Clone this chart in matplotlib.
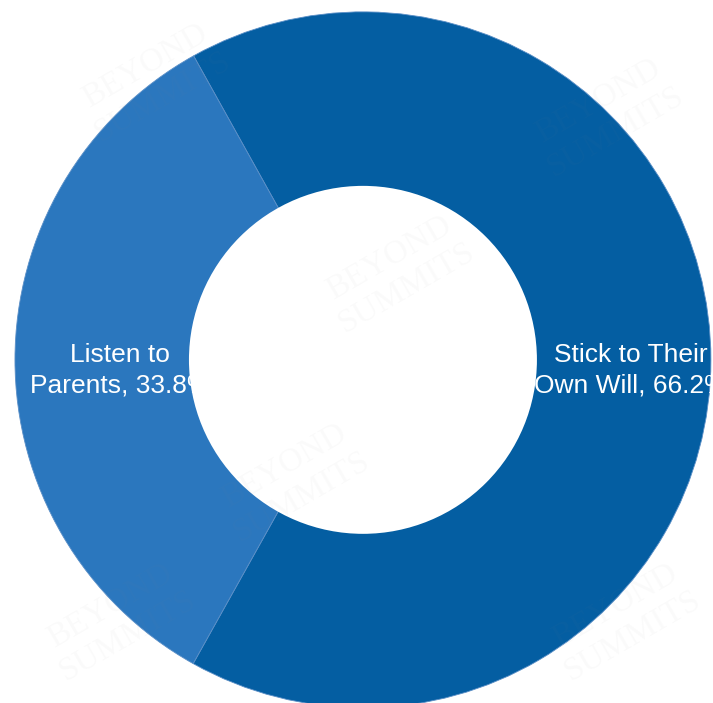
import matplotlib
matplotlib.use("Agg")
import matplotlib.pyplot as plt
from matplotlib.patches import Circle

# data
labels = ["Stick to Their\nOwn Will, 66.2%", "Listen to\nParents, 33.8%"]
values = [66.2, 33.8]
colors = ["#045EA2", "#2B77BE"]

plt.rcParams['font.family'] = ['Liberation Sans', 'DejaVu Sans']

fig = plt.figure(figsize=(7.13, 7.03), dpi=100)
ax = fig.add_axes([0, 0, 1, 1])

wedges, _ = ax.pie(values, colors=colors, startangle=240.8, radius=1.0,
                   wedgeprops=dict(linewidth=0.6, edgecolor="#5b8fc7"))

# labels sit under the hole, like the original
ax.text(0.77, -0.03, labels[0], ha="center", va="center", color="white",
        fontsize=19, linespacing=1.32, zorder=3)
ax.text(-0.698, -0.03, labels[1], ha="center", va="center", color="white",
        fontsize=19, linespacing=1.32, zorder=3)

# hole
ax.add_patch(Circle((0, 0), 0.5, facecolor="white", edgecolor="none", zorder=4))

# faint watermark
wm = [(-0.6, 0.8), (0.1, 0.25), (-0.2, -0.35), (0.7, 0.7), (-0.7, -0.75), (0.75, -0.75)]
for x, y in wm:
    ax.text(x, y, "BEYOND\nSUMMITS", rotation=30, ha="center", va="center",
            fontsize=24, color="#888888", alpha=0.04, family="Liberation Serif", zorder=5)

ax.set_xlim(-1.043, 1.006)
ax.set_ylim(-0.986, 1.034)
ax.set_aspect("equal")
ax.axis("off")

fig.savefig("out.png", dpi=100)
